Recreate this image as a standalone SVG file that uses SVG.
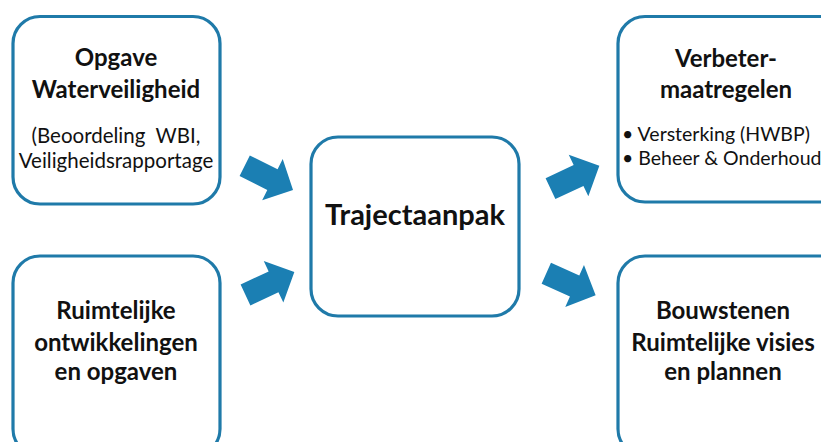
<svg xmlns="http://www.w3.org/2000/svg" width="821" height="442" viewBox="0 0 821 442">
<style>
.box{fill:#ffffff;stroke:#1f7aa9;stroke-width:3.2}
.arrow{fill:#1b7fb3}
.h{font-family:Lato,"Liberation Sans",sans-serif;font-weight:bold;fill:#111;text-anchor:middle;font-size:24px}
.t{font-family:Lato,"Liberation Sans",sans-serif;fill:#111;font-size:20.5px;white-space:pre}
</style>
<defs>
<polygon id="blk" points="0,-11.5 31,-11.5 31,-23 54,0 31,23 31,11.5 0,11.5"/>
</defs>
<rect width="821" height="442" fill="#ffffff"/>
<g id="connectors">
<use href="#blk" class="arrow" transform="translate(244.7,165.8) rotate(26.5)"/>
<use href="#blk" class="arrow" transform="translate(245.5,295) rotate(-25.2)"/>
<use href="#blk" class="arrow" transform="translate(550.5,188.7) rotate(-25.2)"/>
<use href="#blk" class="arrow" transform="translate(546.3,273.3) rotate(24)"/>
</g>
<g id="opgave">
<rect class="box" x="13" y="16.5" width="207" height="187.5" rx="27"/>
<text class="h" x="116" y="66">Opgave</text>
<text class="h" x="116" y="98">Waterveiligheid</text>
<text class="t" x="116" y="143" text-anchor="middle" xml:space="preserve">(Beoordeling  WBI,</text>
<text class="t" x="116" y="168" text-anchor="middle">Veiligheidsrapportage</text>
</g>
<g id="ruimtelijke">
<rect class="box" x="13" y="256" width="207" height="200" rx="27"/>
<text class="h" x="116" y="319">Ruimtelijke</text>
<text class="h" x="116" y="351">ontwikkelingen</text>
<text class="h" x="116" y="380">en opgaven</text>
</g>
<g id="trajectaanpak">
<rect class="box" x="311" y="137" width="208" height="179" rx="27"/>
<text class="h" x="415" y="225" style="font-size:29px">Trajectaanpak</text>
</g>
<g id="verbeter">
<rect class="box" x="618" y="16.5" width="230" height="185.5" rx="27"/>
<text class="h" x="726" y="67">Verbeter-</text>
<text class="h" x="726" y="98">maatregelen</text>
<text class="t" x="622" y="141" style="font-size:19.5px">• Versterking (HWBP)</text>
<text class="t" x="622" y="165" style="font-size:19.5px">• Beheer &amp; Onderhoud</text>
</g>
<g id="bouwstenen">
<rect class="box" x="618" y="256" width="230" height="200" rx="27"/>
<text class="h" x="723" y="319">Bouwstenen</text>
<text class="h" x="723" y="351">Ruimtelijke visies</text>
<text class="h" x="723" y="380">en plannen</text>
</g>
</svg>
